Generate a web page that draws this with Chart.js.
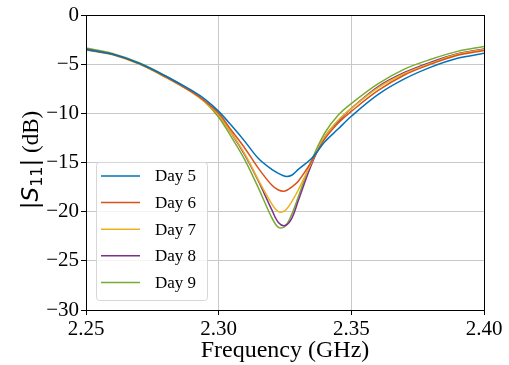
<!DOCTYPE html>
<html>
<head>
<meta charset="utf-8">
<script src="https://cdn.jsdelivr.net/npm/chart.js@4.4.1/dist/chart.umd.min.js"></script>
<style>
html,body{margin:0;padding:0;background:#fff;}
#wrap{width:509px;height:365px;position:relative;}
</style>
</head>
<body>
<div id="wrap"><canvas id="c" width="509" height="365"></canvas></div>
<script>
const freq = [2.25, 2.26, 2.27, 2.28, 2.29, 2.295, 2.30, 2.305, 2.31, 2.315, 2.32, 2.3225, 2.325, 2.3275, 2.33, 2.335, 2.34, 2.345, 2.35, 2.36, 2.37, 2.38, 2.39, 2.40];
const day5 = [-3.5, -4.0, -4.9, -6.2, -7.7, -8.6, -9.8, -11.3, -12.9, -14.6, -15.7, -16.1, -16.4, -16.3, -15.7, -14.6, -12.9, -11.6, -10.3, -8.1, -6.5, -5.3, -4.4, -3.9];
const day6 = [-3.5, -4.0, -4.95, -6.3, -7.85, -8.8, -10.0, -11.8, -13.6, -15.6, -17.3, -17.8, -17.9, -17.5, -16.9, -14.9, -12.6, -11.0, -9.8, -7.7, -6.1, -5.0, -4.1, -3.6];
const day7 = [-3.55, -4.05, -5.0, -6.35, -7.9, -8.9, -10.2, -12.1, -14.2, -16.8, -19.2, -20.0, -19.9, -19.0, -17.8, -15.0, -12.4, -10.7, -9.5, -7.4, -5.95, -4.9, -4.0, -3.5];
const day8 = [-3.45, -4.0, -4.95, -6.3, -7.85, -8.85, -10.2, -12.1, -14.3, -16.9, -19.8, -21.1, -21.4, -20.7, -18.9, -15.2, -12.4, -10.8, -9.5, -7.3, -5.85, -4.8, -3.95, -3.45];
const day9 = [-3.35, -3.9, -4.85, -6.2, -7.8, -8.9, -10.4, -12.5, -14.8, -17.6, -20.6, -21.6, -21.5, -20.3, -18.5, -14.8, -12.0, -10.2, -9.0, -7.0, -5.5, -4.5, -3.7, -3.2];
const seriesLabels = ['Day 5', 'Day 6', 'Day 7', 'Day 8', 'Day 9'];
const seriesColors = ['#0072BD', '#D95319', '#EDB120', '#7E2F8E', '#77AC30'];
const xTicks = [2.25, 2.30, 2.35, 2.40];
const yTicks = [0, -5, -10, -15, -20, -25, -30];

const allSeries = [day5, day6, day7, day8, day9];
const datasets = allSeries.map((s, i) => ({
  label: seriesLabels[i],
  data: s.map((v, j) => ({x: freq[j], y: v})),
  borderColor: seriesColors[i],
  backgroundColor: seriesColors[i],
  borderWidth: 1.5,
  pointRadius: 0,
  tension: 0.35,
  fill: false
}));

const SERIF = '"Liberation Serif", "DejaVu Serif", serif';

const framePlugin = {
  id: 'frame',
  afterDraw(chart) {
    const ctx = chart.ctx, a = chart.chartArea;
    ctx.save();
    ctx.strokeStyle = '#000';
    ctx.lineWidth = 1;
    ctx.strokeRect(Math.round(a.left) + 0.5, Math.round(a.top) + 0.5, Math.round(a.right - a.left), Math.round(a.bottom - a.top));
    ctx.restore();

    // legend
    ctx.save();
    const lx = 96, ly = 162, lw = 111, lh = 138;
    ctx.fillStyle = 'rgba(255,255,255,0.8)';
    ctx.strokeStyle = '#d6d6d6';
    ctx.lineWidth = 1;
    const r = 3;
    ctx.beginPath();
    ctx.moveTo(lx + r, ly + 0.5);
    ctx.arcTo(lx + lw + 0.5, ly + 0.5, lx + lw + 0.5, ly + lh, r);
    ctx.arcTo(lx + lw + 0.5, ly + lh + 0.5, lx, ly + lh + 0.5, r);
    ctx.arcTo(lx + 0.5, ly + lh + 0.5, lx + 0.5, ly, r);
    ctx.arcTo(lx + 0.5, ly + 0.5, lx + lw, ly + 0.5, r);
    ctx.closePath();
    ctx.fill();
    ctx.stroke();
    ctx.font = '17px ' + SERIF;
    ctx.textBaseline = 'middle';
    chart.data.datasets.forEach((d, i) => {
      const y = 176 + i * 26.6;
      ctx.strokeStyle = d.borderColor;
      ctx.lineWidth = 1.5;
      ctx.beginPath();
      ctx.moveTo(101, y);
      ctx.lineTo(140, y);
      ctx.stroke();
      ctx.fillStyle = '#000';
      ctx.fillText(d.label, 155, y + 1);
    });
    ctx.restore();

    // y title with math
    ctx.save();
    const cx = 30, cy = 160;
    ctx.translate(cx, cy);
    ctx.rotate(-Math.PI / 2);
    ctx.fillStyle = '#000';
    ctx.textBaseline = 'alphabetic';
    const fs = 23;
    const parts = [
      {t: '|', f: fs + 'px "DejaVu Sans"', dy: 0},
      {t: 'S', f: 'italic ' + fs + 'px "DejaVu Sans"', dy: 0},
      {t: '11', f: Math.round(fs * 0.7) + 'px "DejaVu Sans"', dy: 4},
      {t: '|', f: fs + 'px "DejaVu Sans"', dy: 0},
      {t: ' (dB)', f: fs + 'px ' + SERIF, dy: 0}
    ];
    let total = 0;
    parts.forEach(p => { ctx.font = p.f; p.w = ctx.measureText(p.t).width; total += p.w; });
    let x = -total / 2;
    parts.forEach(p => { ctx.font = p.f; ctx.fillText(p.t, x, 8 + p.dy); x += p.w; });
    ctx.restore();
  }
};

new Chart(document.getElementById('c'), {
  type: 'line',
  data: {datasets},
  options: {
    responsive: false,
    animation: false,
    devicePixelRatio: 1,
    layout: {padding: {top: 15, right: 25, left: 0, bottom: 0}},
    plugins: {legend: {display: false}, tooltip: {enabled: false}},
    scales: {
      x: {
        type: 'linear', min: 2.25, max: 2.40,
        afterBuildTicks: s => { s.ticks = xTicks.map(v => ({value: v})); },
        afterFit: s => { s.height = 55; },
        ticks: {
          font: {family: SERIF, size: 21}, color: '#000', padding: 2,
          maxRotation: 0, autoSkip: false,
          callback: v => Number(v).toFixed(2)
        },
        grid: {color: '#c8c8c8', lineWidth: 1, tickColor: '#000', tickLength: 5, drawTicks: true},
        border: {color: '#000', width: 1},
        title: {display: true, text: 'Frequency (GHz)', font: {family: SERIF, size: 24}, color: '#000', padding: {top: 0, bottom: 0}}
      },
      y: {
        type: 'linear', min: -30, max: 0,
        afterBuildTicks: s => { s.ticks = yTicks.map(v => ({value: v})); },
        afterFit: s => { s.width = 86; },
        ticks: {
          font: {family: SERIF, size: 21}, color: '#000', padding: 2,
          autoSkip: false,
          callback: v => v < 0 ? '\u2212' + Math.abs(v) : String(v)
        },
        grid: {color: '#c8c8c8', lineWidth: 1, tickColor: '#000', tickLength: 5, drawTicks: true},
        border: {color: '#000', width: 1}
      }
    }
  },
  plugins: [framePlugin]
});
</script>
</body>
</html>
